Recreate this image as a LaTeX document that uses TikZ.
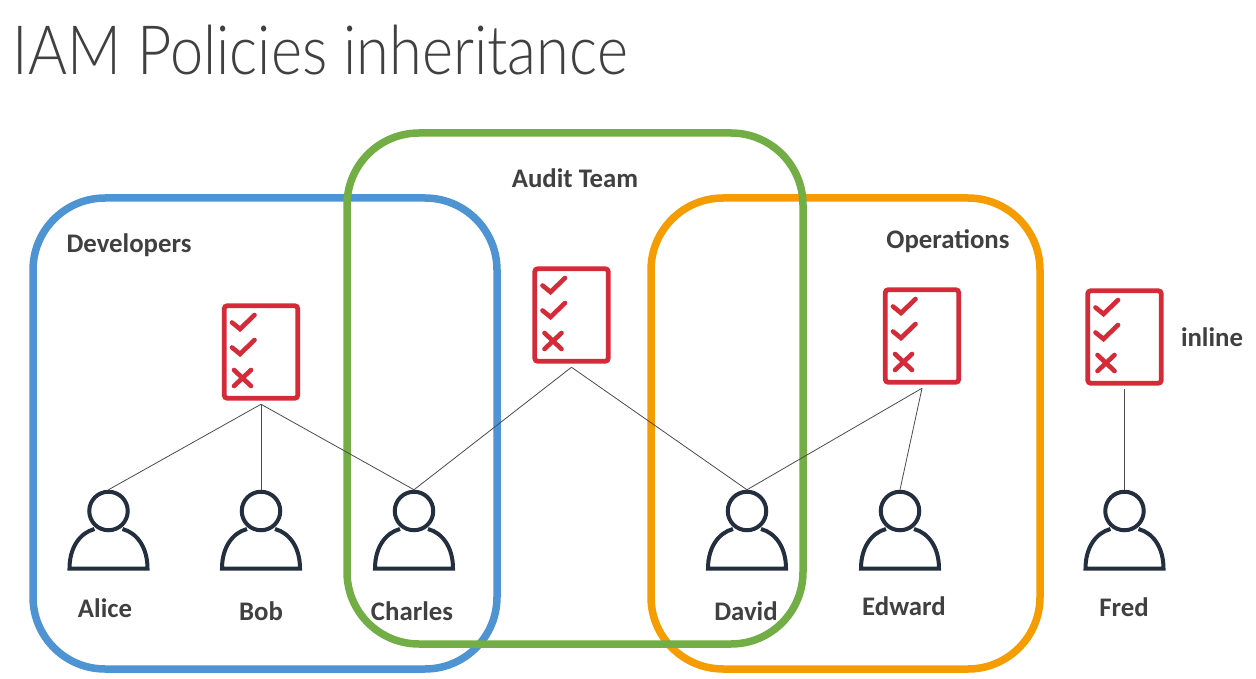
\documentclass[tikz,border=0pt]{standalone}
\usepackage{fontspec}
\setmainfont{Carlito}
\newfontfamily\titlefont{Lato Light}
\definecolor{blueg}{HTML}{4E94D2}
\definecolor{greeng}{HTML}{72AE45}
\definecolor{orangeg}{HTML}{F59C00}
\definecolor{redp}{HTML}{D52B39}
\definecolor{navy}{HTML}{232F3E}
\definecolor{txt}{HTML}{404040}
\tikzset{
  x=1pt,y=-1pt,
  grp/.style={draw,line width=7.5pt,rounded corners=72pt},
  lbl/.style={font=\fontsize{26.8}{30}\selectfont\bfseries,text=txt,inner sep=0pt,anchor=center},
  conn/.style={draw=black!70,line width=0.8pt},
  polbox/.style={draw=redp,line width=4.8pt,rounded corners=3pt,minimum width=73.5pt,minimum height=92.5pt,outer sep=6pt,inner sep=0pt},
  headc/.style={circle,draw=navy,line width=4pt,minimum size=38.5pt,inner sep=0pt,outer sep=2pt},
  pic1/.pic={
    \draw[redp,line width=4.6pt,line cap=round] (-29,-29.5)--(-21,-23)--(-6.5,-37);
    \draw[redp,line width=4.6pt,line cap=round] (-29,-4.5)--(-21,2)--(-6.5,-12);
    \draw[redp,line width=4.6pt,line cap=round] (-27,18)--(-10,34) (-10,18)--(-27,34);
  },
  body/.pic={
    \draw[navy,line width=4pt,line join=miter]
      (-14,18) .. controls (-29,22) and (-39,37) .. (-39,57.5)
      -- (39,57.5) .. controls (39,37) and (29,22) .. (14,18);
  }
}
\newcommand{\person}[3]{%
  \node[headc] (#3) at (#1,#2) {};
  \pic at (#1,#2) {body};
}
\begin{document}
\begin{tikzpicture}
\useasboundingbox (0,0) rectangle (1256,679);
\fill[white] (0,0) rectangle (1256,679);
\node[font=\fontsize{68}{80}\selectfont\titlefont,text=txt,anchor=west,inner sep=0pt,xscale=0.875] (title) at (12.5,50) {IAM Policies inheritance};
\draw[grp,blueg] (33,198) rectangle (497,669);
\draw[grp,orangeg] (651,198) rectangle (1040,669);
\draw[grp,greeng] (347,133) rectangle (803,644);
\node[lbl] (ldev) at (129,245) {Developers};
\node[lbl] (laud) at (575,178) {Audit Team};
\node[lbl] (lops) at (948,241) {Operations};
\node[lbl] (linl) at (1212,337) {inline};
\node[polbox] (pdev) at (261,352) {}; \pic at (261,352) {pic1};
\node[polbox] (paud) at (571.5,315) {}; \pic at (571.5,315) {pic1};
\node[polbox] (pops) at (922,336) {}; \pic at (922,336) {pic1};
\node[polbox] (pinl) at (1124.5,337) {}; \pic at (1124.5,337) {pic1};
\person{108.5}{511}{alice}
\person{261}{511}{bob}
\person{414}{511}{charles}
\person{747}{511}{david}
\person{900}{511}{edward}
\person{1124.5}{511}{fred}
\node[lbl] (nalice) at (105,608) {Alice};
\node[lbl] (nbob) at (261,611) {Bob};
\node[lbl] (ncharles) at (412,611) {Charles};
\node[lbl] (ndavid) at (746,611) {David};
\node[lbl] (nedward) at (904,606) {Edward};
\node[lbl] (nfred) at (1124,607) {Fred};
\draw[conn] (pdev.south) -- (alice.north);
\draw[conn] (pdev.south) -- (bob.north);
\draw[conn] (pdev.south) -- (charles.north);
\draw[conn] (paud.south) -- (charles.north);
\draw[conn] (paud.south) -- (david.north);
\draw[conn] (pops.south) -- (david.north);
\draw[conn] (pops.south) -- (edward.north);
\draw[conn] (pinl.south) -- (fred.north);
\end{tikzpicture}
\end{document}
